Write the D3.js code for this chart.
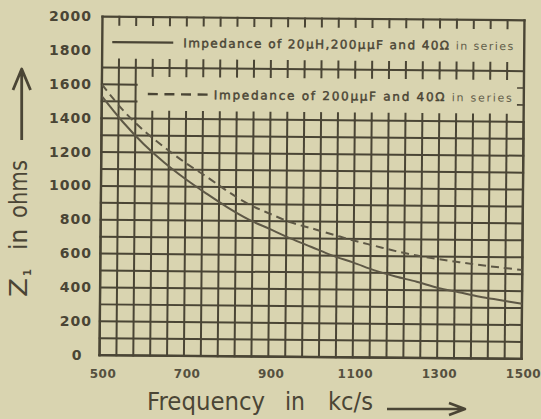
<!DOCTYPE html>
<html><head><meta charset="utf-8">
<script src="https://cdn.jsdelivr.net/npm/d3@7"></script>
<style>
html,body{margin:0;padding:0;background:#d9d4b0;}
svg{display:block;}
</style></head><body>
<svg id="chart" width="541" height="419"></svg>
<script>
// ---- data ----
const frequency = [500,550,600,650,700,750,800,850,900,950,1000,1050,1100,1150,1200,1250,1300,1350,1400,1450,1500];
const impedanceLCR = [1530,1380,1250,1140,1045,960,880,810,755,700,650,600,560,515,480,450,415,390,365,345,325];
const impedanceCR  = [1600,1450,1330,1230,1140,1060,975,900,845,795,760,725,690,660,630,605,585,568,552,538,525];
const xTickValues = [500,700,900,1100,1300,1500];
const yTickValues = [0,200,400,600,800,1000,1200,1400,1600,1800,2000];
const legendMain = ["Impedance of 20\u00b5H,200\u00b5\u00b5F and 40\u03a9", "Impedance of 200\u00b5\u00b5F and 40\u03a9"];
const legendSuffix = "in series";
const xTitleWords = ["Frequency","in","kc/s"];
const yTitleWords = ["Z","1","in","ohms"];

// ---- setup ----
const ink = "#4a4535";
const svg = d3.select("#chart");
svg.append("rect").attr("width",541).attr("height",419).attr("fill","#d9d4b0");

const L = 101, R = 523, T = 18.5, B = 357;
const x = d3.scaleLinear().domain([500,1500]).range([L,R]);
const y = d3.scaleLinear().domain([0,2000]).range([B,T]);

const plot = svg.append("g").attr("transform","rotate(0.5,312,188)");
const gridFreq = d3.range(500,1501,40);
const gridZ = d3.range(0,2001,100);
function ln(x1,y1,x2,y2,w){
  plot.append("line").attr("x1",x1).attr("y1",y1).attr("x2",x2).attr("y2",y2)
    .attr("stroke",ink).attr("stroke-width",w||2).attr("stroke-linecap","square");
}
// full grid below 1400
gridFreq.forEach(f=>ln(x(f),y(0),x(f),y(1400)));
gridZ.filter(z=>z<=1400).forEach(z=>ln(x(500),y(z),x(1500),y(z)));
// left columns region 1400-1700
gridFreq.filter(f=>f<=580).forEach(f=>ln(x(f),y(1400),x(f),y(1700)));
[1500,1600].forEach(z=>ln(x(500),y(z),x(580)+1,y(z)));
[1500,1600].forEach(z=>ln(x(1500)-6,y(z),x(1500),y(z),1.6));
// 1700 and 2000 lines, borders
ln(x(500),y(1700),x(1500),y(1700));
ln(x(500),y(2000),x(1500),y(2000),2.2);
ln(x(500),y(0),x(500),y(2000),2.4);
ln(x(1500),y(0),x(1500),y(2000),2.4);
ln(x(500),y(0),x(1500),y(0),2.4);
// ticks
const inner = gridFreq.filter(f=>f>500 && f<1500);
inner.forEach(f=>ln(x(f),y(2000),x(f),y(2000)+8));
inner.forEach(f=>ln(x(f),y(1700)-8,x(f),y(1700)));
inner.filter(f=>f>580).forEach(f=>ln(x(f),y(1700),x(f),y(1700)+8));
inner.filter(f=>f>580).forEach(f=>ln(x(f),y(1400)-7,x(f),y(1400)));

// curves
plot.append("clipPath").attr("id","clip").append("rect")
  .attr("x",L).attr("y",T).attr("width",R-L).attr("height",B-T);
const line = d3.line().x((d,i)=>x(frequency[i])).y(d=>y(d)).curve(d3.curveCatmullRom);
plot.append("path").datum(impedanceLCR).attr("d",line).attr("clip-path","url(#clip)")
  .attr("fill","none").attr("stroke","#5e5846").attr("stroke-width",2);
plot.append("path").datum(impedanceCR).attr("d",line).attr("clip-path","url(#clip)")
  .attr("fill","none").attr("stroke","#5e5846").attr("stroke-width",2).attr("stroke-dasharray","8,5");

// legend
const ly1 = y(1850), ly2 = y(1545);
plot.append("line").attr("x1",111).attr("x2",172).attr("y1",ly1).attr("y2",ly1)
  .attr("stroke",ink).attr("stroke-width",2.4);
plot.append("line").attr("x1",147).attr("x2",207).attr("y1",ly2).attr("y2",ly2)
  .attr("stroke",ink).attr("stroke-width",2.4).attr("stroke-dasharray","10,6.6");
[[182,ly1,330],[213,ly2,298]].forEach((p,i)=>{
  const t = plot.append("text").attr("x",p[0]).attr("y",p[1]+4.5)
    .attr("font-family","DejaVu Sans").attr("font-size",12).attr("fill",ink)
    .attr("textLength",p[2]).attr("lengthAdjust","spacing");
  t.append("tspan").text(legendMain[i]+" ").attr("stroke",ink).attr("stroke-width",0.45);
  t.append("tspan").text(legendSuffix).attr("fill","#625d4a").attr("font-size",11);
});

// axes (labels only)
const yLab = d3.scaleLinear().domain([0,2000]).range([B-2,T-2.5]);
const xLab = d3.scaleLinear().domain([500,1500]).range([L+1.5,R]);
const ya = svg.append("g").attr("transform",`translate(${L},0)`)
  .call(d3.axisLeft(yLab).tickValues(yTickValues).tickFormat(d3.format("d")).tickSize(0).tickPadding(9));
ya.select(".domain").remove();
ya.selectAll("text").attr("font-family","DejaVu Sans").attr("font-weight","bold")
  .attr("font-size",14).attr("letter-spacing",1).attr("fill",ink);
ya.selectAll(".tick").filter(d=>d===0).select("text").attr("x",-24).attr("text-anchor","middle");
const xa = svg.append("g").attr("transform",`translate(0,${B})`)
  .call(d3.axisBottom(xLab).tickValues(xTickValues).tickFormat(d3.format("d")).tickSize(0).tickPadding(12));
xa.select(".domain").remove();
xa.selectAll("text").attr("font-family","DejaVu Sans").attr("font-weight","bold")
  .attr("font-size",12).attr("letter-spacing",0.5).attr("fill","#55503f");

// x title
const xt = [[147,118],[285,20],[328,45]];
xTitleWords.forEach((w,i)=>{
  svg.append("text").attr("x",xt[i][0]).attr("y",409.5).text(w)
    .attr("font-family","DejaVu Sans").attr("font-size",24).attr("fill",ink)
    .attr("textLength",xt[i][1]).attr("lengthAdjust","spacingAndGlyphs");
});
svg.append("path").attr("d","M387,409 L464,409 M449,403 L465,409 L449,415")
  .attr("fill","none").attr("stroke",ink).attr("stroke-width",2.6).attr("stroke-linejoin","round");

// y title
const yg = svg.append("g").attr("transform","translate(27,297) rotate(-90)");
yg.append("text").attr("x",0).attr("y",0).text(yTitleWords[0])
  .attr("font-family","DejaVu Sans").attr("font-size",24).attr("fill",ink)
  .attr("textLength",19).attr("lengthAdjust","spacingAndGlyphs");
yg.append("text").attr("x",21).attr("y",4).text(yTitleWords[1])
  .attr("font-family","DejaVu Sans").attr("font-weight","bold").attr("font-size",10).attr("fill",ink);
yg.append("text").attr("x",47).attr("y",0).text(yTitleWords[2])
  .attr("font-family","DejaVu Sans").attr("font-size",24).attr("fill",ink)
  .attr("textLength",21).attr("lengthAdjust","spacingAndGlyphs");
yg.append("text").attr("x",79).attr("y",0).text(yTitleWords[3])
  .attr("font-family","DejaVu Sans").attr("font-size",24).attr("fill",ink)
  .attr("textLength",58).attr("lengthAdjust","spacingAndGlyphs");
svg.append("path").attr("d","M21.7,140 L21.7,70 M13,90 L21.7,69 L30.5,90")
  .attr("fill","none").attr("stroke",ink).attr("stroke-width",2.8).attr("stroke-linejoin","round");
</script>
</body></html>
